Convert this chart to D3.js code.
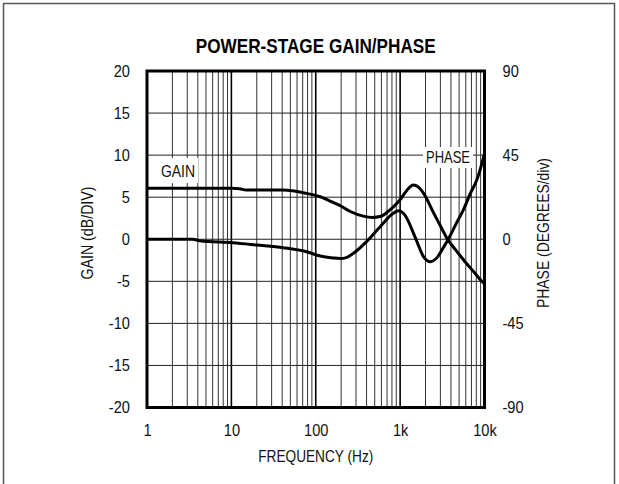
<!DOCTYPE html>
<html>
<head>
<meta charset="utf-8">
<script src="https://cdn.jsdelivr.net/npm/d3@7"></script>
<style>
  html, body { margin: 0; padding: 0; background: #fff; }
  svg { display: block; }
  text { font-family: "Liberation Sans", Arial, sans-serif; fill: #111; }
</style>
</head>
<body>
<svg id="chart" width="619" height="484"></svg>
<script>
// Power-stage frequency response
const freqTicks = [1, 10, 100, 1000, 10000];
const freqTickLabels = ["1", "10", "100", "1k", "10k"];
const gainTicks = [20, 15, 10, 5, 0, -5, -10, -15, -20];
const phaseTicks = [90, 45, 0, -45, -90];

const gainFreq = [1, 5, 10, 12.5, 15, 41, 78, 113, 150, 195, 257, 366, 470, 580, 760, 1000, 1200, 1430, 1650, 1900, 2500, 3000, 3600, 4500, 5600, 7500, 9300, 10000];
const gainDb   = [6.05, 6.05, 6.05, 6.0, 5.85, 5.85, 5.45, 5.05, 4.5, 4.0, 3.3, 2.75, 2.6, 2.7, 3.5, 4.7, 5.8, 6.45, 6.2, 5.45, 3.1, 1.6, 0.1, -1.2, -2.4, -3.9, -5.0, -5.3];

const phaseFreq = [1, 3.5, 4.2, 10.4, 20, 41, 78, 113, 160, 195, 230, 280, 400, 580, 830, 950, 1140, 1500, 1900, 2280, 2750, 3200, 3750, 4700, 5600, 6800, 8100, 9300, 10000];
const phaseDeg  = [0, 0, -0.8, -1.9, -3.1, -4.5, -6.7, -9.0, -10.0, -10.3, -9.8, -7.5, -1.3, 6.7, 13.9, 15.2, 12.9, 1.3, -9.4, -12.0, -9.7, -5.0, 0.3, 9.0, 15.6, 24.5, 31.7, 40.5, 46.0];

const svg = d3.select("#chart");
const L = 147, R = 484.5, T = 71, B = 407.5;

const x = d3.scaleLog().domain([1, 10000]).range([L, R]);
const yGain = d3.scaleLinear().domain([-20, 20]).range([B, T]);
const yPhase = d3.scaleLinear().domain([-90, 90]).range([B, T]);

// squeeze text horizontally to a narrow face
function condense(sel, ratio) {
  sel.each(function () {
    const w = this.getComputedTextLength();
    this.setAttribute("textLength", (w * ratio).toFixed(2));
    this.setAttribute("lengthAdjust", "spacingAndGlyphs");
  });
}

// outer frame
svg.append("rect")
  .attr("x", 3.5).attr("y", 3.5).attr("width", 611).attr("height", 500)
  .attr("fill", "none").attr("stroke", "#555").attr("stroke-width", 1.5);

// title
svg.append("text")
  .attr("x", (L + R) / 2).attr("y", 53)
  .attr("text-anchor", "middle")
  .attr("font-size", 20).attr("font-weight", "bold")
  .attr("textLength", 240).attr("lengthAdjust", "spacingAndGlyphs")
  .style("fill", "#000")
  .text("POWER-STAGE GAIN/PHASE");

// vertical grid: every 1..9 per decade
const minor = [];
for (let d = 1; d < 10000; d *= 10) for (let k = 1; k < 10; k++) minor.push(d * k);
const grid = svg.append("g");
grid.selectAll("line.v").data(minor.filter(f => f > 1)).join("line")
  .attr("x1", d => x(d)).attr("x2", d => x(d))
  .attr("y1", T).attr("y2", B)
  .attr("stroke", d => freqTicks.includes(d) ? "#000" : "#333")
  .attr("stroke-width", d => freqTicks.includes(d) ? 1.6 : 1);

// horizontal grid
grid.selectAll("line.h").data(gainTicks.slice(1, -1)).join("line")
  .attr("x1", L).attr("x2", R)
  .attr("y1", d => yGain(d)).attr("y2", d => yGain(d))
  .attr("stroke", "#222").attr("stroke-width", 1);

// label backgrounds
svg.append("rect").attr("x", 157).attr("y", 158).attr("width", 41).attr("height", 25).attr("fill", "#fff");
svg.append("rect").attr("x", 423).attr("y", 147).attr("width", 50).attr("height", 21).attr("fill", "#fff");

// plot frame
svg.append("rect")
  .attr("x", L).attr("y", T).attr("width", R - L).attr("height", B - T)
  .attr("fill", "none").attr("stroke", "#000").attr("stroke-width", 3);

// curves
const gainLine = d3.line().x((d, i) => x(gainFreq[i])).y(d => yGain(d)).curve(d3.curveMonotoneX);
const phaseLine = d3.line().x((d, i) => x(phaseFreq[i])).y(d => yPhase(d)).curve(d3.curveMonotoneX);
svg.append("path").attr("d", gainLine(gainDb))
  .attr("fill", "none").attr("stroke", "#000").attr("stroke-width", 3).attr("stroke-linejoin", "round");
svg.append("path").attr("d", phaseLine(phaseDeg))
  .attr("fill", "none").attr("stroke", "#000").attr("stroke-width", 3).attr("stroke-linejoin", "round");

// curve labels
svg.append("text").attr("x", 161).attr("y", 177).attr("font-size", 17)
  .attr("textLength", 34).attr("lengthAdjust", "spacingAndGlyphs").text("GAIN");
svg.append("text").attr("x", 426).attr("y", 163).attr("font-size", 17)
  .attr("textLength", 44).attr("lengthAdjust", "spacingAndGlyphs").text("PHASE");

// axes (tick labels only)
const leftAxis = d3.axisLeft(yGain).tickValues(gainTicks).tickSize(0).tickPadding(17)
  .tickFormat(d => String(d));
const gL = svg.append("g").attr("transform", `translate(${L},0)`).call(leftAxis);
const rightAxis = d3.axisRight(yPhase).tickValues(phaseTicks).tickSize(0).tickPadding(18)
  .tickFormat(d => String(d));
const gR = svg.append("g").attr("transform", `translate(${R},0)`).call(rightAxis);
const bottomAxis = d3.axisBottom(x).tickValues(freqTicks).tickSize(0).tickPadding(16)
  .tickFormat((d, i) => freqTickLabels[i]);
const gB = svg.append("g").attr("transform", `translate(0,${B})`).call(bottomAxis);
[gL, gR, gB].forEach(g => {
  g.select(".domain").remove();
  g.attr("font-family", null).attr("font-size", null);
  g.selectAll("text").attr("font-size", 17).style("fill", "#111").call(condense, 0.86);
});

// axis titles
svg.append("text").attr("transform", "translate(93,233) rotate(-90)")
  .attr("text-anchor", "middle").attr("font-size", 17)
  .attr("textLength", 93).attr("lengthAdjust", "spacingAndGlyphs").text("GAIN (dB/DIV)");
svg.append("text").attr("transform", "translate(549,233) rotate(-90)")
  .attr("text-anchor", "middle").attr("font-size", 17)
  .attr("textLength", 150).attr("lengthAdjust", "spacingAndGlyphs").text("PHASE (DEGREES/div)");
svg.append("text").attr("x", (L + R) / 2).attr("y", 462)
  .attr("text-anchor", "middle").attr("font-size", 17)
  .attr("textLength", 115).attr("lengthAdjust", "spacingAndGlyphs").text("FREQUENCY (Hz)");
</script>
</body>
</html>
